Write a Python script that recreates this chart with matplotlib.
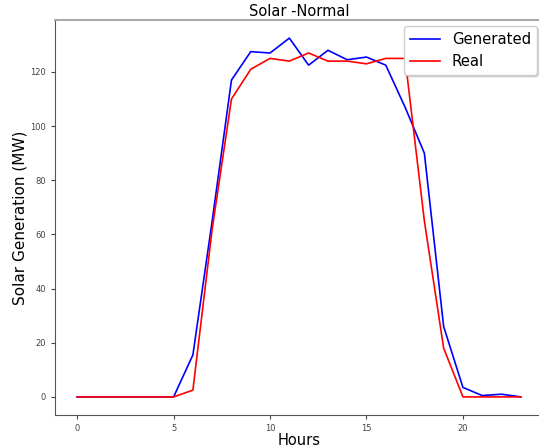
import matplotlib.pyplot as plt
import numpy as np


HOURS     = list(range(24))
GENERATED = [0, 0, 0, 0, 0, 0, 15.5, 65, 117, 127.5, 127, 132.5, 122.5, 128,
             124.5, 125.5, 122.5, 107, 90, 26, 3.5, 0.5, 1, 0]
REAL      = [0, 0, 0, 0, 0, 0, 2.5, 62, 110, 121, 125, 124, 127, 124,
             124, 123, 125, 125, 65, 18, 0, 0, 0, 0]


def main():
    fig, ax = plt.subplots(figsize=(5.39, 4.48), dpi=100)
    ax.plot(HOURS, GENERATED, color="blue", linewidth=1.2, label="Generated")
    ax.plot(HOURS, REAL, color="red", linewidth=1.2, label="Real")
    ax.set_title("Solar -Normal", fontsize=10.5, pad=3)
    ax.set_xlabel("Hours", fontsize=10.5, labelpad=0)
    ax.set_ylabel("Solar Generation (MW)", fontsize=11, labelpad=2)
    ax.tick_params(labelsize=6, colors="#444444", length=3)

    for side in ("left", "bottom"):
        ax.spines[side].set_color("#555555")
    ax.spines["top"].set_color("#aaaaaa")
    ax.spines["top"].set_linewidth(1.5)

    ax.legend(
        loc           = "upper right",
        fontsize      = 10.7,
        fancybox      = True,
        edgecolor     = "#cccccc",
        framealpha    = 1,
        shadow        = dict(color="gray", alpha=0.25, ox=1, oy=-1),
        borderaxespad = 0.4,
    )
    fig.subplots_adjust(left=0.102, right=1.0074, top=0.955, bottom=0.074)
    fig.savefig("out.png", dpi=100)
    plt.close(fig)


if __name__ == "__main__":
    main()
